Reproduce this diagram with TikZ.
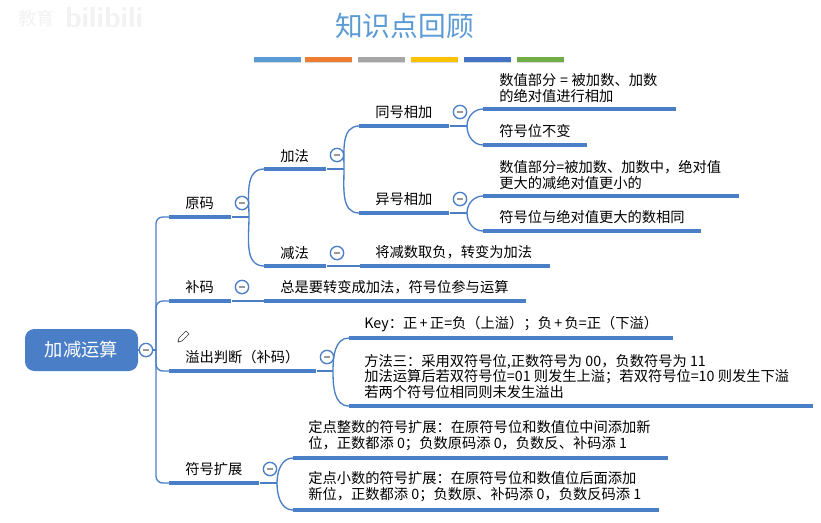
\documentclass[tikz,border=0pt]{standalone}
\usepackage{fontspec}
\setmainfont{Noto Sans CJK SC}
\usepackage{xcolor}
\usetikzlibrary{backgrounds,calc,shadows}
\definecolor{mapblue}{HTML}{4A7EC7}
\definecolor{titleblue}{HTML}{5B9BD5}
\definecolor{s2col}{HTML}{ED7D31}
\definecolor{s3col}{HTML}{A5A5A5}
\definecolor{s4col}{HTML}{FFC000}
\definecolor{s5col}{HTML}{4472C4}
\definecolor{s6col}{HTML}{70AD47}

\begin{document}
\begin{tikzpicture}[x=0.75pt,y=-0.75pt]
\tikzset{
bar/.style = {fill=mapblue,anchor=west,inner sep=0pt,minimum height=3pt,minimum width=#1*0.75pt},
stripe/.style = {anchor=west,inner sep=0pt,minimum height=3.75pt,minimum width=47*0.75pt,drop shadow={shadow xshift=0pt,shadow yshift=-1pt,opacity=.3}},
link/.style = {draw=mapblue,line width=1pt},
txt/.style = {anchor=west,inner sep=0pt,align=left,font=\fontsize{10.7}{11.9}\selectfont},
toggle/.style = {draw=mapblue,line width=1pt,circle,fill=white,minimum size=10pt,inner sep=0pt,path picture={
\draw[gray!80,line width=1pt] ([xshift=2.6pt]path picture bounding box.west) -- ([xshift=-2.6pt]path picture bounding box.east);
}},
root/.style = {fill=mapblue,rounded corners=7pt,text=white,minimum width=84.75pt,minimum height=31.5pt,inner sep=0pt,font=\fontsize{13.7}{15}\selectfont},
}
\useasboundingbox (0,0) rectangle (821,522);

% watermark
\node[anchor=west,inner sep=0pt,text=black!5,font=\fontsize{13.8}{15}\selectfont] (mark1) at (18,18) {教育};
\node[anchor=west,inner sep=0pt,text=black!5,font=\sffamily\bfseries\fontsize{22}{24}\selectfont] (mark2) at (65,17) {bilibili};

% title
\node[inner sep=0pt,text=titleblue,font=\fontsize{20.8}{24}\selectfont] (title) at (404.5,26) {知识点回顾};
\foreach \x/\c/\n in {254/titleblue/s1,305/s2col/s2,358/s3col/s3,411/s4col/s4,464/s5col/s5,517/s6col/s6}{
\node[stripe,fill=\c] (\n) at (\x,59.5) {};
}

% root
\node[root] (jiajian) at (81.5,350) {加减运算};
\node[toggle] (t0) at (146,350) {};

% first level
\node[bar=62] (yuanma) at (169,217) {};
\node[bar=62] (buma) at (169,301) {};
\node[bar=147] (yichu) at (169,371) {};
\node[bar=90] (kuozhan) at (169,483) {};
\node[txt] (lyuanma) at (185,203) {原码};
\node[txt] (lbuma) at (185,287) {补码};
\node[txt] (lyichu) at (185,357) {溢出判断（补码）};
\node[txt] (lkuozhan) at (185,469) {符号扩展};
\node[toggle] (t1) at (242,203) {};
\node[toggle] (t2) at (242,287) {};
\node[toggle] (t3) at (327,357) {};
\node[toggle] (t4) at (270,469) {};

% second level
\node[bar=62] (jia) at (264,169) {};
\node[bar=62] (jian) at (264,266) {};
\node[txt] (ljia) at (280,156) {加法};
\node[txt] (ljian) at (280,253) {减法};
\node[toggle] (t5) at (337,155) {};
\node[toggle] (t6) at (337,253) {};
\node[bar=190] (jianb) at (360,266) {};
\node[txt] (ljianb) at (375,252) {将减数取负，转变为加法};
\node[bar=262] (bub) at (264,301) {};
\node[txt] (lbub) at (280,287) {总是要转变成加法，符号位参与运算};

% third level
\node[bar=90] (tong) at (359,126) {};
\node[bar=90] (yi) at (359,213) {};
\node[txt] (ltong) at (375,112) {同号相加};
\node[txt] (lyi) at (375,199) {异号相加};
\node[toggle] (t7) at (460,112) {};
\node[toggle] (t8) at (460,199) {};

% leaves
\node[bar=193] (a1) at (483,109) {};
\node[bar=104] (a2) at (483,145) {};
\node[bar=256] (b1) at (483,196) {};
\node[bar=218] (b2) at (483,231) {};
\node[txt] (la1) at (499,88) {数值部分\hspace{2.8pt}=\hspace{2.8pt}被加数、加数\\的绝对值进行相加};
\node[txt] (la2) at (499,131) {符号位不变};
\node[txt] (lb1) at (499,175) {数值部分=被加数、加数中，绝对值\\更大的减绝对值更小的};
\node[txt] (lb2) at (499,217) {符号位与绝对值更大的数相同};
\node[bar=324] (c1) at (349,338) {};
\node[bar=464] (c2) at (349,406) {};
\node[txt] (lc1) at (364,324) {Key：正\,+\,正=负（上溢）；负\,+\,负=正（下溢）};
\node[txt] (lc2) at (364,376.5) {方法三：采用双符号位,正数符号为 00，负数符号为 11\\加法运算后若双符号位=01 则发生上溢；若双符号位=10 则发生下溢\\若两个符号位相同则未发生溢出};
\node[bar=375] (d1) at (293,458) {};
\node[bar=366] (d2) at (293,510) {};
\node[txt] (ld1) at (308,436) {定点整数的符号扩展：在原符号位和数值位中间添加新\\位，正数都添 0；负数原码添 0，负数反、补码添 1};
\node[txt] (ld2) at (308,487) {定点小数的符号扩展：在原符号位和数值位后面添加\\新位，正数都添 0；负数原、补码添 0，负数反码添 1};

% pencil
\draw[black!80,line width=.5pt,fill=white] (178,342) -- (179,338) -- (186,331) -- (189,334) -- (182,341) -- cycle;

% connectors
\begin{pgfonlayer}{background}
\coordinate (j0) at (156,350);
\coordinate (j1) at (249,217);
\coordinate (j2) at (344,169);
\coordinate (j3) at (467,126);
\coordinate (j4) at (467,213);
\coordinate (j5) at (333,371);
\coordinate (j6) at (277,483);
\draw[link] (jiajian) -- (j0);
\draw[link,rounded corners=5pt] (j0) |- (yuanma.west);
\draw[link,rounded corners=5pt] (j0) |- (buma.west);
\draw[link,rounded corners=5pt] (j0) |- (yichu.west);
\draw[link,rounded corners=5pt] (j0) |- (kuozhan.west);
\draw[link] (yuanma.east) -- (j1);
\draw[link] (j1) to[out=90,in=180] (jia.west);
\draw[link] (j1) to[out=-90,in=180] (jian.west);
\draw[link] (jia.east) -- (j2);
\draw[link] (j2) to[out=90,in=180] (tong.west);
\draw[link] (j2) to[out=-90,in=180] (yi.west);
\draw[link] (tong.east) -- (j3);
\draw[link] (j3) to[out=90,in=180] (a1.west);
\draw[link] (j3) to[out=-90,in=180] (a2.west);
\draw[link] (yi.east) -- (j4);
\draw[link] (j4) to[out=90,in=180] (b1.west);
\draw[link] (j4) to[out=-90,in=180] (b2.west);
\draw[link] (jian.east) -- (jianb.west);
\draw[link] (buma.east) -- (bub.west);
\draw[link] (yichu.east) -- (j5);
\draw[link] (j5) to[out=90,in=180] (c1.west);
\draw[link] (j5) to[out=-90,in=180] (c2.west);
\draw[link] (kuozhan.east) -- (j6);
\draw[link] (j6) to[out=90,in=180] (d1.west);
\draw[link] (j6) to[out=-90,in=180] (d2.west);
\end{pgfonlayer}
\end{tikzpicture}
\end{document}
